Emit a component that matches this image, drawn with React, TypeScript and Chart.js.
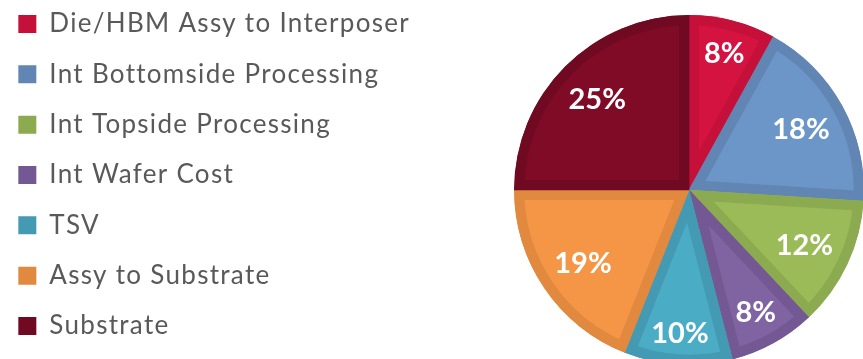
import React, { useEffect, useRef } from "react";
import { Chart, registerables } from "chart.js";

Chart.register(...registerables);

const CATEGORIES: string[] = [
  "Die/HBM Assy to Interposer",
  "Int Bottomside Processing",
  "Int Topside Processing",
  "Int Wafer Cost",
  "TSV",
  "Assy to Substrate",
  "Substrate",
];
const SHARES: number[] = [8, 18, 12, 8, 10, 19, 25];

const FILL_COLORS: string[] = ["#D51340", "#6C96C8", "#9BBB59", "#8064A2", "#4BACC6", "#F59646", "#800B27"];
const EDGE_COLORS: string[] = ["#C5103A", "#6186B4", "#8CAA50", "#735893", "#449AB2", "#E0893F", "#700922"];

const LABEL_FONT_SIZE = 29;
const LEGEND_FONT_SIZE = 26;
const LEGEND_LETTER_SPACING = "1.3px";

// canvas is shifted by this many pixels up/left inside the clipped frame
const SHIFT_X = 6;
const SHIFT_Y = 14;
const TARGET_CX = 689 + SHIFT_X;

const letterSpacingPlugin = {
  id: "letterSpacing",
  beforeLayout(chart: any) {
    (chart.ctx as any).letterSpacing = LEGEND_LETTER_SPACING;
  },
  beforeDraw(chart: any) {
    (chart.ctx as any).letterSpacing = LEGEND_LETTER_SPACING;
  },
};

const insideEndLabels = {
  id: "insideEndLabels",
  afterDatasetsDraw(chart: any) {
    const ctx = chart.ctx as any;
    const meta = chart.getDatasetMeta(0);
    const values = chart.data.datasets[0].data as number[];
    const total = values.reduce((a, b) => a + b, 0);
    ctx.save();
    ctx.letterSpacing = "0px";
    ctx.font = `bold ${LABEL_FONT_SIZE}px Lato`;
    ctx.fillStyle = "#FFFFFF";
    ctx.textAlign = "center";
    ctx.textBaseline = "alphabetic";
    meta.data.forEach((arc: any, i: number) => {
      const { x, y, startAngle, endAngle, outerRadius } = arc.getProps(
        ["x", "y", "startAngle", "endAngle", "outerRadius"],
        true
      );
      const text = Math.round((values[i] / total) * 100) + "%";
      const hw = ctx.measureText(text).width / 2;
      const hh = (LABEL_FONT_SIZE * 0.72) / 2;
      const mid = (startAngle + endAngle) / 2;
      const ux = Math.cos(mid);
      const uy = Math.sin(mid);
      const a = Math.sign(ux) * hw;
      const b = Math.sign(uy) * hh;
      const D = outerRadius - 17;
      const k = ux * a + uy * b;
      const r = -k + Math.sqrt(Math.max(k * k - (a * a + b * b - D * D), 0));
      ctx.fillText(text, x + r * ux, y + r * uy + hh);
    });
    ctx.restore();
  },
};

export default function App() {
  const canvasRef = useRef<HTMLCanvasElement | null>(null);

  useEffect(() => {
    document.body.style.margin = "0";
    const canvas = canvasRef.current;
    if (!canvas) return;
    const padding = { left: 0, top: 0.67, right: 400, bottom: 0.67 };
    const chart = new Chart(canvas, {
      type: "pie",
      data: {
        labels: CATEGORIES,
        datasets: [
          {
            data: SHARES,
            backgroundColor: FILL_COLORS,
            borderColor: EDGE_COLORS,
            borderWidth: 10,
            borderAlign: "inner",
            borderJoinStyle: "miter",
            radius: 175,
            clip: false,
          } as any,
        ],
      },
      options: {
        responsive: false,
        animation: false,
        events: [],
        layout: { padding },
        plugins: {
          tooltip: { enabled: false },
          legend: {
            position: "left",
            align: "start",
            labels: {
              boxWidth: 18,
              boxHeight: 18,
              padding: 24.33,
              color: "#595959",
              font: { family: "Lato", size: LEGEND_FONT_SIZE },
              generateLabels: () =>
                CATEGORIES.map((text, i) => ({
                  text,
                  fillStyle: EDGE_COLORS[i],
                  strokeStyle: EDGE_COLORS[i],
                  lineWidth: 0,
                  hidden: false,
                  index: i,
                  fontColor: "#595959",
                })),
            },
          },
        },
      },
      plugins: [letterSpacingPlugin, insideEndLabels],
    });
    // put the pie centre where the reference has it
    const ca = chart.chartArea;
    const cx = (ca.left + ca.right) / 2;
    (chart.options.layout as any).padding = { ...padding, right: padding.right + 2 * (cx - TARGET_CX) };
    chart.update();
    return () => chart.destroy();
  }, []);

  return (
    <div style={{ position: "relative", width: 863, height: 359, overflow: "hidden", background: "#FFFFFF" }}>
      <canvas
        ref={canvasRef}
        width={1400}
        height={408}
        style={{ display: "block", position: "absolute", left: -SHIFT_X, top: -SHIFT_Y }}
      />
    </div>
  );
}
